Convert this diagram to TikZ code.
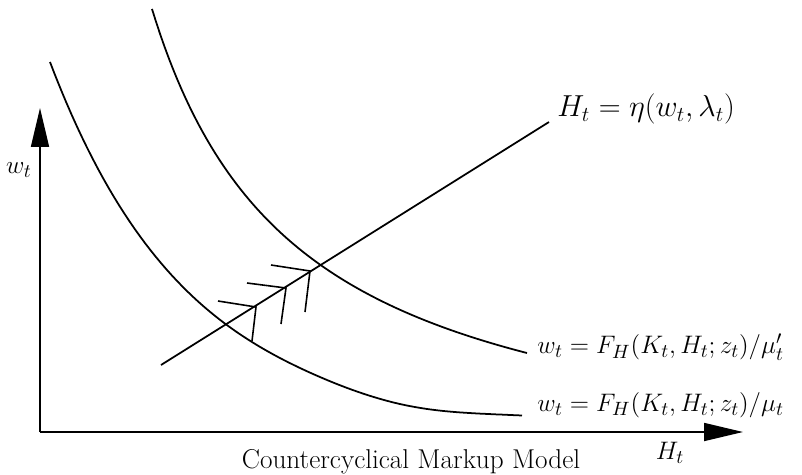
\documentclass[tikz,border=0pt]{standalone}
\usepackage{amsmath}
\usetikzlibrary{arrows.meta}
\begin{document}
\begin{tikzpicture}[x=0.02cm, y=-0.02cm,
    axis/.style={line width=1pt, -{Triangle[length=0.78cm, width=0.36cm]}},
    curve/.style={line width=1pt},
    hatch/.style={line width=0.9pt},
    lbl/.style={font=\fontsize{15.5}{18}\selectfont, inner sep=0pt}
]
    \useasboundingbox (0,0) rectangle (802,474);

    % axes
    \coordinate (origin) at (40,432);
    \coordinate (wtop)   at (40,108);
    \coordinate (hend)   at (743,432);
    \draw[axis] (origin) -- (wtop);
    \draw[axis] (origin) -- (hend);
    \node[lbl] (wlab) at (19,170) {\(w_t\)};
    \node[lbl] (hlab) at (670,453) {\(H_t\)};
    \node[lbl] (title) at (411,462) {Countercyclical Markup Model};

    % labour supply line
    \coordinate (eta0) at (161,365);
    \coordinate (eta1) at (549,122);
    \draw[curve] (eta0) -- (eta1);
    \node[lbl, font=\fontsize{16.5}{19}\selectfont, anchor=west] (etalab) at (557,109)
        {\(H_t = \eta(w_t, \lambda_t)\)};

    % labour demand curves
    \draw[curve] plot[domain=152:527, samples=90]
        (\x, {487.3 - 700.13/((\x-5.63)/100)});
    \draw[curve] plot[domain=50:522, samples=90]
        (\x, {425.9 - 345.9*exp(-(\x-57)/138) + 7*exp(-((\x-410)/90)^2)});
    \node[lbl, anchor=west] (upper) at (537,347) {\(w_t = F_H(K_t, H_t; z_t)/\mu'_t\)};
    \node[lbl, anchor=west] (lower) at (537,405) {\(w_t = F_H(K_t, H_t; z_t)/\mu_t\)};

    % hatching
    \coordinate (h1) at (256,307);
    \coordinate (h2) at (286,288);
    \coordinate (h3) at (310,271);
    \draw[hatch] (218,301) -- (h1) -- (252,341);
    \draw[hatch] (247,283) -- (h2) -- (281,324);
    \draw[hatch] (271,265) -- (h3) -- (305,312);
\end{tikzpicture}
\end{document}
